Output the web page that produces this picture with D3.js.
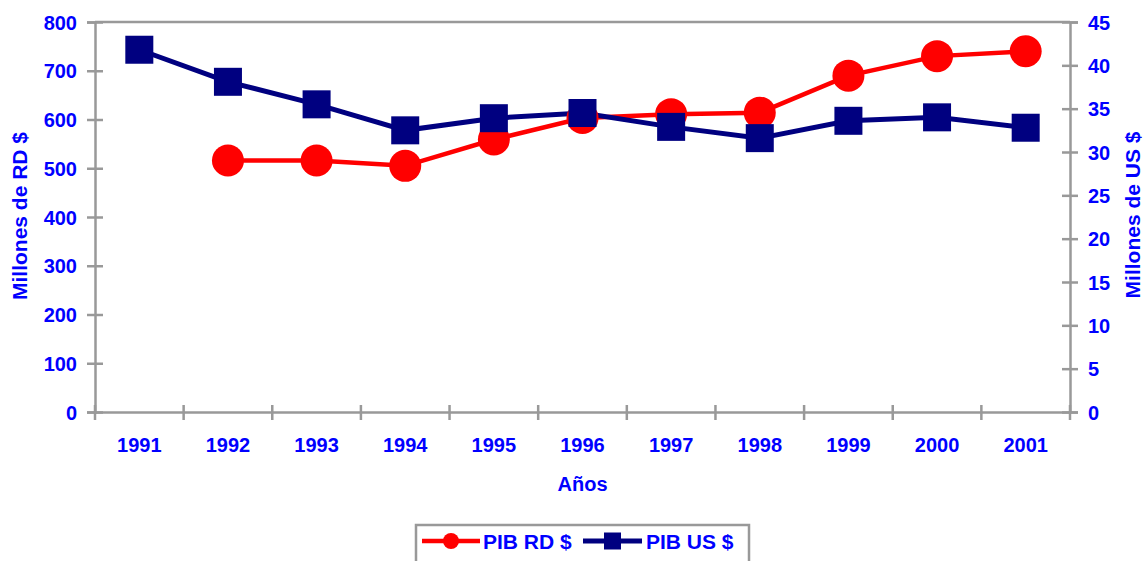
<!DOCTYPE html>
<html>
<head>
<meta charset="utf-8">
<script src="https://cdn.jsdelivr.net/npm/d3@7"></script>
<style>
  body { margin: 0; background: #fff; }
  text { font-family: "Liberation Sans", Arial, sans-serif; font-weight: bold; fill: #0000ff; }
  .axis path, .axis line { stroke: #999; stroke-width: 2.5; }
</style>
</head>
<body>
<div id="chart"></div>
<script>
// datos
var years = ['1991','1992','1993','1994','1995','1996','1997','1998','1999','2000','2001'];
var pibRD = [null, 516, 516, 505, 559, 603, 611, 614, 690, 730, 740];
var pibUS = [41.8, 38.1, 35.5, 32.5, 33.9, 34.5, 32.9, 31.6, 33.6, 34.0, 32.8];
var leftTicks = [0,100,200,300,400,500,600,700,800];
var rightTicks = [0,5,10,15,20,25,30,35,40,45];

var width = 1145, height = 561,
    margin = {left: 95, top: 22, right: 75, bottom: 149},
    w = width - margin.left - margin.right,
    h = height - margin.top - margin.bottom;

var svg = d3.select('#chart').append('svg')
    .attr('width', width)
    .attr('height', height);

var chart = svg.append('g')
    .attr('transform', 'translate(' + margin.left + ',' + margin.top + ')');

var x = d3.scaleBand().domain(years).range([0, w]);
var yL = d3.scaleLinear().domain([0, 800]).range([h, 0]);
var yR = d3.scaleLinear().domain([0, 45]).range([h, 0]);

// borde superior
chart.append('line')
    .attr('x1', 0).attr('x2', w).attr('y1', 0).attr('y2', 0)
    .attr('stroke', '#999').attr('stroke-width', 2.5);

// eje x
var xAxis = chart.append('g')
    .attr('class', 'axis')
    .attr('transform', 'translate(0,' + h + ')')
    .call(d3.axisBottom(x).tickSize(0));
xAxis.selectAll('.tick').remove();
xAxis.selectAll('.xt')
    .data(d3.range(years.length + 1))
    .enter().append('line')
    .attr('x1', function (d) { return d * x.step(); })
    .attr('x2', function (d) { return d * x.step(); })
    .attr('y1', -7).attr('y2', 8);
xAxis.selectAll('.xl')
    .data(years)
    .enter().append('text')
    .attr('x', function (d) { return x(d) + x.bandwidth() / 2; })
    .attr('y', 40)
    .attr('text-anchor', 'middle')
    .style('font-size', '20px')
    .text(function (d) { return d; });

// eje izquierdo
var left = chart.append('g')
    .attr('class', 'axis')
    .call(d3.axisLeft(yL).tickValues(leftTicks).tickSizeOuter(0).tickSize(8).tickPadding(10));
left.selectAll('.tick line').attr('x2', 8).attr('x1', -8);
left.selectAll('text').style('font-size', '20px').attr('dy', '0.35em');

// eje derecho
var right = chart.append('g')
    .attr('class', 'axis')
    .attr('transform', 'translate(' + w + ',0)')
    .call(d3.axisRight(yR).tickValues(rightTicks).tickSizeOuter(0).tickSize(8).tickPadding(10));
right.selectAll('.tick line').attr('x1', -8).attr('x2', 8);
right.selectAll('text').style('font-size', '20px').attr('dy', '0.35em');

// lineas
var lineRD = d3.line()
    .defined(function (d) { return d != null; })
    .x(function (d, i) { return x(years[i]) + x.bandwidth() / 2; })
    .y(function (d) { return yL(d); });
var lineUS = d3.line()
    .x(function (d, i) { return x(years[i]) + x.bandwidth() / 2; })
    .y(function (d) { return yR(d); });

chart.append('path')
    .attr('d', lineRD(pibRD))
    .attr('fill', 'none').attr('stroke', '#ff0000').attr('stroke-width', 4.5);

chart.append('path')
    .attr('d', lineUS(pibUS))
    .attr('fill', 'none').attr('stroke', '#000080').attr('stroke-width', 5);

chart.selectAll('.pt-rd')
    .data(pibRD.map(function (v, i) { return {v: v, y: years[i]}; }).filter(function (d) { return d.v != null; }))
    .enter().append('circle')
    .attr('cx', function (d) { return x(d.y) + x.bandwidth() / 2; })
    .attr('cy', function (d) { return yL(d.v); })
    .attr('r', 16)
    .attr('fill', '#ff0000');

var sq = 28;
chart.selectAll('.pt-us')
    .data(pibUS)
    .enter().append('rect')
    .attr('x', function (d, i) { return x(years[i]) + x.bandwidth() / 2 - sq / 2; })
    .attr('y', function (d) { return yR(d) - sq / 2; })
    .attr('width', sq).attr('height', sq)
    .attr('fill', '#000080');

// titulos de ejes
svg.append('text')
    .attr('x', margin.left + w / 2).attr('y', 491)
    .attr('text-anchor', 'middle')
    .style('font-size', '20px')
    .text('Años');

svg.append('text')
    .attr('transform', 'translate(27,216) rotate(-90)')
    .attr('text-anchor', 'middle')
    .style('font-size', '21px')
    .text('Millones de RD $');

svg.append('text')
    .attr('transform', 'translate(1140,215) rotate(-90)')
    .attr('text-anchor', 'middle')
    .style('font-size', '21px')
    .text('Millones de US $');

// leyenda
var lg = svg.append('g').attr('transform', 'translate(416,525)');
lg.append('rect')
    .attr('width', 333).attr('height', 45)
    .attr('fill', '#fff').attr('stroke', '#999').attr('stroke-width', 2.5);
lg.append('line').attr('x1', 6).attr('x2', 64).attr('y1', 16).attr('y2', 16)
    .attr('stroke', '#ff0000').attr('stroke-width', 4.5);
lg.append('circle').attr('cx', 35).attr('cy', 16).attr('r', 8).attr('fill', '#ff0000');
lg.append('text').attr('x', 67).attr('y', 24).style('font-size', '21px').text('PIB RD $');
lg.append('line').attr('x1', 167).attr('x2', 226).attr('y1', 16).attr('y2', 16)
    .attr('stroke', '#000080').attr('stroke-width', 5);
lg.append('rect').attr('x', 188).attr('y', 7.5).attr('width', 17).attr('height', 17).attr('fill', '#000080');
lg.append('text').attr('x', 230).attr('y', 24).style('font-size', '21px').text('PIB US $');
</script>
</body>
</html>
